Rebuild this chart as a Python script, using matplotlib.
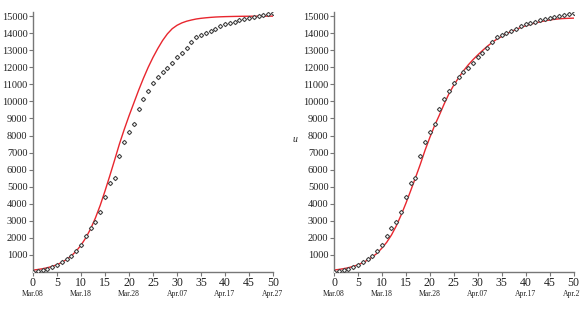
import matplotlib
matplotlib.use("Agg")
import matplotlib.pyplot as plt
import numpy as np

days = np.arange(0, 51)

observed = [20, 78, 117, 176, 293, 430, 605, 762, 957, 1250,
            1582, 2129, 2559, 2911, 3516, 4395, 5196, 5528, 6817, 7618,
            8186, 8693, 9532, 10118, 10626, 11055, 11446, 11719, 11973, 12248,
            12581, 12853, 13146, 13498, 13790, 13868, 13986, 14123, 14258, 14396,
            14513, 14610, 14669, 14747, 14824, 14865, 14941, 14980, 15059, 15137,
            15195]

model_left = [111, 146, 192, 252, 330, 431, 562, 732, 949, 1224,
              1572, 2003, 2530, 3165, 3906, 4747, 5640, 6560, 7500, 8350,
              9150, 9900, 10650, 11350, 12000, 12580, 13100, 13570, 13960, 14260,
              14460, 14600, 14700, 14770, 14830, 14870, 14900, 14925, 14945, 14958,
              14968, 14975, 14981, 14986, 14989, 14992, 14994, 14995, 14996, 14997,
              14998]

model_right = [117, 150, 195, 250, 330, 420, 540, 700, 880, 1100,
               1400, 1740, 2170, 2700, 3330, 4020, 4760, 5520, 6300, 7130,
               7880, 8580, 9200, 9850, 10450, 10950, 11380, 11780, 12130, 12440,
               12720, 12980, 13230, 13450, 13650, 13800, 13960, 14100, 14220, 14330,
               14430, 14520, 14600, 14660, 14720, 14770, 14810, 14840, 14860, 14870,
               14880]

xticks = [0, 5, 10, 15, 20, 25, 30, 35, 40, 45, 50]
date_pos = [0, 10, 20, 30, 40, 50]
date_labels = ["Mar.08", "Mar.18", "Mar.28", "Apr.07", "Apr.17", "Apr.27"]
yticks = list(range(1000, 15001, 1000))

plt.rcParams['font.family'] = ['Liberation Serif', 'DejaVu Serif']

fig = plt.figure(figsize=(5.8, 3.1), dpi=100)
W, H = 580, 310

def make_ax(x0, x1, model, ylabel=None):
    ax = fig.add_axes([x0 / W, (H - 272) / H, (x1 - x0) / W, (272 - 12) / H])
    ax.plot(days, model, color='#e8262e', lw=1.0, zorder=2)
    ax.plot(days, observed, linestyle='none', marker='D', markersize=2.2,
            markerfacecolor='white', markeredgecolor='#444444', markeredgewidth=0.8, zorder=3)
    ax.set_xlim(0, 50)
    ax.set_ylim(0, 15240)
    ax.set_xticks(xticks)
    ax.set_xticklabels([str(t) for t in xticks], fontsize=8.5)
    ax.set_yticks(yticks)
    ax.set_yticklabels([str(t) for t in yticks], fontsize=7.5)
    for s in ['top', 'right']:
        ax.spines[s].set_visible(False)
    for s in ['left', 'bottom']:
        ax.spines[s].set_color('#777777')
        ax.spines[s].set_linewidth(1.0)
    ax.tick_params(axis='both', direction='out', length=3, width=0.8, colors='#777777',
                   labelcolor='#222222', pad=1)
    ax.tick_params(axis='x', pad=0.5)
    for p, lab in zip(date_pos, date_labels):
        ax.annotate(lab, xy=(p, 0), xycoords=('data', 'axes fraction'),
                    xytext=(0, -13), textcoords='offset points',
                    ha='center', va='top', fontsize=5.5, color='#222222',
                    annotation_clip=False)
    if ylabel:
        ax.text(-0.165, 0.51, ylabel, transform=ax.transAxes, fontsize=7,
                style='italic', ha='center', va='center', color='#222222')
    return ax

make_ax(33, 273, model_left)
make_ax(334, 573.5, model_right, ylabel='u')

fig.savefig('out.png', dpi=100)
